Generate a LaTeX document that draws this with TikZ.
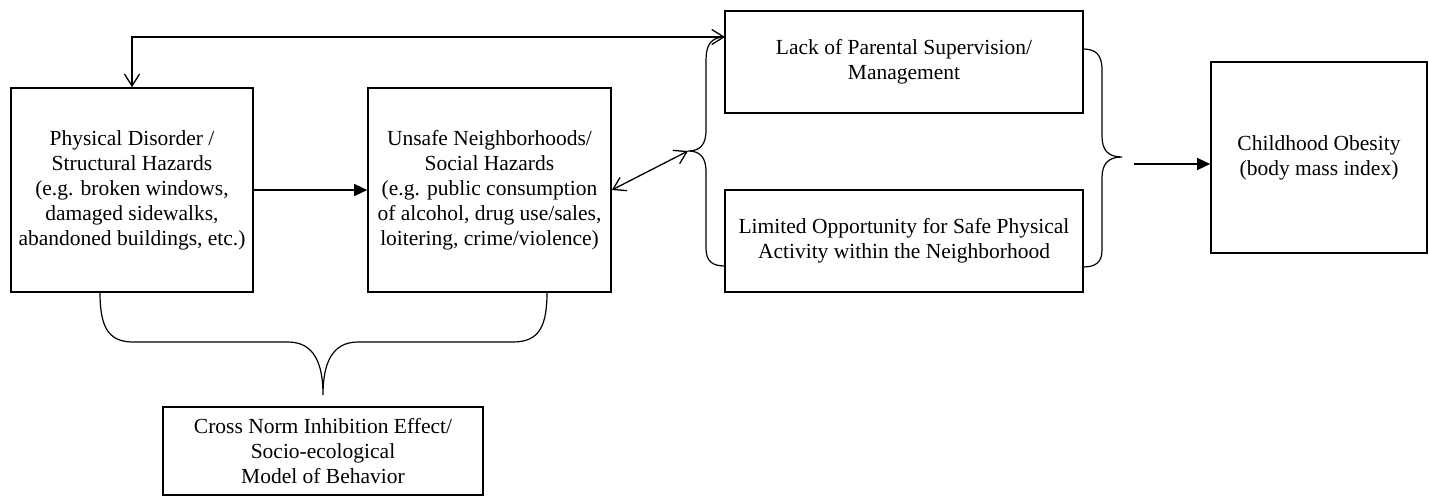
\documentclass[tikz,border=0pt]{standalone}
\usepackage{fontspec}
\setmainfont{Liberation Serif}
\usetikzlibrary{arrows.meta}
\begin{document}
\begin{tikzpicture}[x=1pt,y=-1pt]

      % Box style: plain rectangle with centred text, Times-like font
      \tikzstyle{box}=[draw,line width=1.6pt,align=center,inner sep=0pt,
         font=\fontsize{21.5}{25}\selectfont]
      % Open barbed heads for the feedback arrows, filled heads for the others
      \tikzstyle{feedback}=[line width=1.3pt,{Straight Barb[length=12pt,width=15pt]}-{Straight Barb[length=12pt,width=15pt]}]
      \tikzstyle{flow}=[line width=1.3pt,-{Triangle[length=13pt,width=12pt]}]
      \tikzstyle{brace}=[line width=1.2pt]

      % Define dimensions
      \def\bh{204}      % Height of the two boxes on the left
      \def\lx{706}      % x of the left brace's stem
      \def\rx{1102}     % x of the right brace's stem

      \useasboundingbox (0,0) rectangle (1429,496);

      % Boxes
      \node[box,minimum width=242pt,minimum height=\bh pt] (physdis) at (132,190)
         {Physical Disorder /\\Structural Hazards\\(e.g. broken windows,\\damaged sidewalks,\\abandoned buildings, etc.)};
      \node[box,minimum width=243pt,minimum height=\bh pt] (unsafe) at (489.5,190)
         {Unsafe Neighborhoods/\\Social Hazards\\(e.g. public consumption\\of alcohol, drug use/sales,\\loitering, crime/violence)};
      \node[box,minimum width=358pt,minimum height=102pt] (supervision) at (904,62)
         {Lack of Parental Supervision/\\Management};
      \node[box,minimum width=358pt,minimum height=102pt] (activity) at (904,241)
         {Limited Opportunity for Safe Physical\\Activity within the Neighborhood};
      \node[box,minimum width=216pt,minimum height=191pt] (obesity) at (1319,157.5)
         {Childhood Obesity\\(body mass index)};
      \node[box,minimum width=320pt,minimum height=88pt] (crossnorm) at (323,451)
         {Cross Norm Inhibition Effect/\\Socio-ecological\\Model of Behavior};

      % Brace tips and connector end points
      \coordinate (fbtop) at (725,37);
      \coordinate (lbtip) at (688,151);
      \coordinate (rbtip) at (1122,157);
      \coordinate (rbout) at (1134,164);
      \coordinate (bbtip) at (323,395);

      % Left brace grouping the two middle boxes
      \draw[brace] (fbtop) .. controls (711,37) and (\lx,45) .. (\lx,60) -- (\lx,130)
         .. controls (\lx,145) and (700,151) .. (lbtip)
         .. controls (700,151) and (\lx,157) .. (\lx,172) -- (\lx,248)
         .. controls (\lx,261) and (712,266) .. (725,266);

      % Right brace
      \draw[brace] (1083,49) .. controls (1096,49) and (\rx,55) .. (\rx,70) -- (\rx,136)
         .. controls (\rx,150) and (1108,157) .. (rbtip)
         .. controls (1108,157) and (\rx,164) .. (\rx,178) -- (\rx,250)
         .. controls (\rx,262) and (1096,267) .. (1083,267);

      % Bottom brace under the two left boxes
      \draw[brace] (100,292) .. controls (100,325) and (107,342) .. (133,342) -- (288,342)
         .. controls (315,342) and (323,365) .. (bbtip)
         .. controls (323,365) and (331,342) .. (358,342) -- (513,342)
         .. controls (540,342) and (547,325) .. (547,292);

      % Connectors
      \draw[feedback] (physdis.north) |- (fbtop);
      \draw[feedback] (unsafe.east) -- (lbtip);
      \draw[flow] (physdis.east) -- (unsafe.west);
      \draw[flow] (rbout) -- (obesity.west |- rbout);

   \end{tikzpicture}
\end{document}
